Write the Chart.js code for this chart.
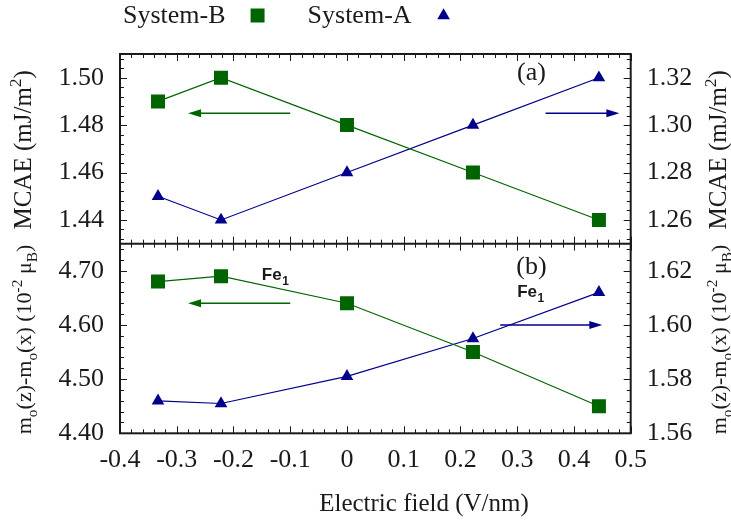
<!DOCTYPE html>
<html>
<head>
<meta charset="utf-8">
<title>MCAE and orbital moment vs electric field</title>
<script src="https://cdn.jsdelivr.net/npm/chart.js@4.4.1/dist/chart.umd.min.js"></script>
<style>
  html, body { margin: 0; padding: 0; background: #fff; }
  #wrap { position: relative; width: 731px; height: 523px; }
</style>
</head>
<body>
<div id="wrap"><canvas id="chart"></canvas></div>
<script>
// electric field (V/nm)
const fieldValues = [-0.333, -0.222, 0, 0.222, 0.444];

// panel (a): MCAE (mJ/m^2)
const mcaeSystemB = [1.49, 1.50, 1.48, 1.46, 1.44];    // left axis
const mcaeSystemA = [1.27, 1.26, 1.28, 1.30, 1.32];    // right axis

// panel (b): mo(z)-mo(x) of Fe1 (10^-2 muB)
const momentSystemB = [4.68, 4.69, 4.64, 4.55, 4.45];       // left axis
const momentSystemA = [1.572, 1.571, 1.581, 1.595, 1.612];  // right axis

// tick labels
const xTicks = [-0.4, -0.3, -0.2, -0.1, 0, 0.1, 0.2, 0.3, 0.4, 0.5];
const xTickLabels = ['-0.4', '-0.3', '-0.2', '-0.1', '0', '0.1', '0.2', '0.3', '0.4', '0.5'];
const topLeftTicks = [1.44, 1.46, 1.48, 1.50];
const topRightTicks = [1.26, 1.28, 1.30, 1.32];
const bottomLeftTicks = [4.40, 4.50, 4.60, 4.70];
const bottomRightTicks = [1.56, 1.58, 1.60, 1.62];

// arrows pointing at the axis each curve belongs to: [axis, from x, to x, y]
const arrows = [
  ['yTopLeft', -0.10, -0.28, 1.485],
  ['yTopRight', 0.35, 0.48, 1.305],
  ['yBotLeft', -0.10, -0.28, 4.64],
  ['yBotRight', 0.27, 0.45, 1.60]
];

const green = '#006400';
const blue = '#00008b';
const ink = '#1a1a1a';
const serif = "'Liberation Serif', 'Times New Roman', serif";
const sans = "'Liberation Sans', Arial, sans-serif";

function points(ys) {
  return fieldValues.map((x, i) => ({x: x, y: ys[i]}));
}

function series(label, ys, axis, color, style) {
  return {
    label: label,
    data: points(ys),
    yAxisID: axis,
    borderColor: color,
    backgroundColor: color,
    pointBackgroundColor: color,
    borderWidth: 1.2,
    pointBorderWidth: 0,
    pointStyle: style,
    pointRadius: style === 'rect' ? 9.9 : 7.3,
    tension: 0
  };
}

function yAxis(position, min, max, ticks, width) {
  return {
    type: 'linear',
    position: position,
    stack: position,
    stackWeight: 1,
    min: min,
    max: max,
    grid: {display: false, drawTicks: false},
    border: {display: false},
    afterBuildTicks: s => { s.ticks = ticks.map(v => ({value: v})); },
    afterFit: s => { s.width = width; },
    ticks: {
      font: {family: serif, size: 26},
      color: ink,
      padding: 16,
      autoSkip: false,
      callback: v => v.toFixed(2)
    }
  };
}

// minor / major ticks pointing into the frame
function tickValues(min, max, step, every) {
  const out = [];
  for (let k = Math.ceil(min / step - 1e-6); k <= Math.floor(max / step + 1e-6); k++) {
    out.push({v: k * step, major: k % every === 0});
  }
  return out;
}

function richText(ctx, parts, x, y, size, family) {
  const widths = parts.map(p => {
    ctx.font = (p.sub || p.sup ? size * 0.7 : size) + 'px ' + family;
    return ctx.measureText(p.t).width;
  });
  let cx = x - widths.reduce((a, b) => a + b, 0) / 2;
  parts.forEach((p, i) => {
    ctx.font = (p.sub || p.sup ? size * 0.7 : size) + 'px ' + family;
    const dy = p.sub ? size * 0.28 : p.sup ? -size * 0.42 : 0;
    ctx.fillText(p.t, cx, y + dy);
    cx += widths[i];
  });
}

const mcaeTitle = [{t: 'MCAE (mJ/m'}, {t: '2', sup: true}, {t: ')'}];
const momentTitle = [
  {t: 'm'}, {t: 'o', sub: true}, {t: '(z)-m'}, {t: 'o', sub: true},
  {t: '(x) (10'}, {t: '-2', sup: true}, {t: ' \u03bc'}, {t: 'B', sub: true}, {t: ')'}
];

const decorations = {
  id: 'decorations',
  afterDraw(chart) {
    const {ctx, chartArea: a, scales} = chart;
    const x = scales.x;
    const mid = scales.yTopLeft.bottom;
    ctx.save();

    // frame and panel divider
    ctx.strokeStyle = ink;
    ctx.lineWidth = 2;
    ctx.strokeRect(a.left, a.top, a.right - a.left, a.bottom - a.top);
    ctx.beginPath();
    ctx.moveTo(a.left, mid);
    ctx.lineTo(a.right, mid);
    ctx.stroke();

    ctx.lineWidth = 1;
    ctx.beginPath();
    tickValues(-0.4, 0.5, 0.02, 5).forEach(t => {
      const px = Math.round(x.getPixelForValue(t.v)) + 0.5;
      const len = t.major ? 7 : 4;
      [[a.top, 1], [mid, -1], [mid, 1], [a.bottom, -1]].forEach(([y0, d]) => {
        ctx.moveTo(px, y0);
        ctx.lineTo(px, y0 + d * len);
      });
    });
    [['yTopLeft', 0.004, 5, a.left, 1], ['yBotLeft', 0.02, 5, a.left, 1],
     ['yTopRight', 0.004, 5, a.right, -1], ['yBotRight', 0.004, 5, a.right, -1]].forEach(([id, step, every, x0, d]) => {
      const s = scales[id];
      tickValues(s.min, s.max, step, every).forEach(t => {
        const py = Math.round(s.getPixelForValue(t.v)) + 0.5;
        ctx.moveTo(x0, py);
        ctx.lineTo(x0 + d * (t.major ? 7 : 4), py);
      });
    });
    ctx.stroke();

    // arrows
    arrows.forEach(([id, x1, x2, yv]) => {
      const color = id.endsWith('Left') ? green : blue;
      const p1 = x.getPixelForValue(x1), p2 = x.getPixelForValue(x2);
      const py = scales[id].getPixelForValue(yv);
      const dir = Math.sign(p2 - p1);
      ctx.strokeStyle = color;
      ctx.fillStyle = color;
      ctx.lineWidth = 1.5;
      ctx.beginPath();
      ctx.moveTo(p1, py);
      ctx.lineTo(p2 - dir * 12, py);
      ctx.stroke();
      ctx.beginPath();
      ctx.moveTo(p2, py);
      ctx.lineTo(p2 - dir * 13, py - 4);
      ctx.lineTo(p2 - dir * 13, py + 4);
      ctx.closePath();
      ctx.fill();
    });

    // panel labels
    ctx.fillStyle = ink;
    ctx.textAlign = 'center';
    ctx.textBaseline = 'middle';
    ctx.font = '26px ' + serif;
    ctx.fillText('(a)', x.getPixelForValue(0.325), scales.yTopLeft.getPixelForValue(1.502));
    ctx.fillText('(b)', x.getPixelForValue(0.325), scales.yBotLeft.getPixelForValue(4.706));

    ctx.textBaseline = 'alphabetic';
    ctx.textAlign = 'left';
    [[-0.15, 4.683], [0.30, 4.652]].forEach(([fx, fy]) => {
      const px = x.getPixelForValue(fx), py = scales.yBotLeft.getPixelForValue(fy);
      ctx.font = 'bold 17px ' + sans;
      ctx.fillText('Fe', px, py);
      const w = ctx.measureText('Fe').width;
      ctx.font = 'bold 12px ' + sans;
      ctx.fillText('1', px + w + 0.5, py + 5);
    });

    // axis titles
    ctx.textAlign = 'left';
    [[mcaeTitle, 25, 31, 'yTopLeft'], [momentTitle, 22, 31, 'yBotLeft'],
     [mcaeTitle, 25, 726, 'yTopRight'], [momentTitle, 22, 726, 'yBotRight']].forEach(([parts, size, bx, id]) => {
      const s = scales[id];
      ctx.save();
      ctx.translate(bx, (s.top + s.bottom) / 2 + 1);
      ctx.rotate(-Math.PI / 2);
      richText(ctx, parts, 0, 0, size, serif);
      ctx.restore();
    });
    ctx.font = '25px ' + serif;
    ctx.textAlign = 'center';
    ctx.fillText('Electric field (V/nm)', 424, 511);

    // legend: text first, then the marker
    ctx.textAlign = 'left';
    ctx.font = '26px ' + serif;
    let lx = 123;
    chart.data.datasets.slice(0, 2).forEach(ds => {
      ctx.fillStyle = ink;
      ctx.fillText(ds.label, lx, 23);
      const mx = lx + ctx.measureText(ds.label).width + 32;
      ctx.fillStyle = ds.backgroundColor;
      Chart.helpers.drawPoint(ctx, {pointStyle: ds.pointStyle, radius: ds.pointRadius, rotation: 0, borderWidth: 0}, mx, 15.5);
      lx = mx + 50;
    });
    ctx.restore();
  }
};

new Chart(document.getElementById('chart'), {
  type: 'line',
  data: {
    datasets: [
      series('System-B', mcaeSystemB, 'yTopLeft', green, 'rect'),
      series('System-A', mcaeSystemA, 'yTopRight', blue, 'triangle'),
      series('System-B', momentSystemB, 'yBotLeft', green, 'rect'),
      series('System-A', momentSystemA, 'yBotRight', blue, 'triangle')
    ]
  },
  options: {
    responsive: true,
    maintainAspectRatio: false,
    animation: false,
    events: [],
    layout: {padding: {top: 54, left: 0, right: 0, bottom: 0}},
    plugins: {legend: {display: false}, tooltip: {enabled: false}},
    scales: {
      x: {
        type: 'linear',
        min: -0.4,
        max: 0.5,
        grid: {display: false, drawTicks: false},
        border: {display: false},
        afterBuildTicks: s => { s.ticks = xTicks.map(v => ({value: v})); },
        afterFit: s => { s.height = 89.7; },
        ticks: {
          font: {family: serif, size: 26},
          color: ink,
          padding: 11,
          autoSkip: false,
          maxRotation: 0,
          callback: (v, i) => xTickLabels[i]
        }
      },
      yBotLeft: yAxis('left', 4.40, 4.75, bottomLeftTicks, 120),
      yTopLeft: yAxis('left', 1.43, 1.51, topLeftTicks, 120),
      yTopRight: yAxis('right', 1.25, 1.33, topRightTicks, 100.3),
      yBotRight: yAxis('right', 1.56, 1.63, bottomRightTicks, 100.3)
    }
  },
  plugins: [decorations]
});
</script>
</body>
</html>
